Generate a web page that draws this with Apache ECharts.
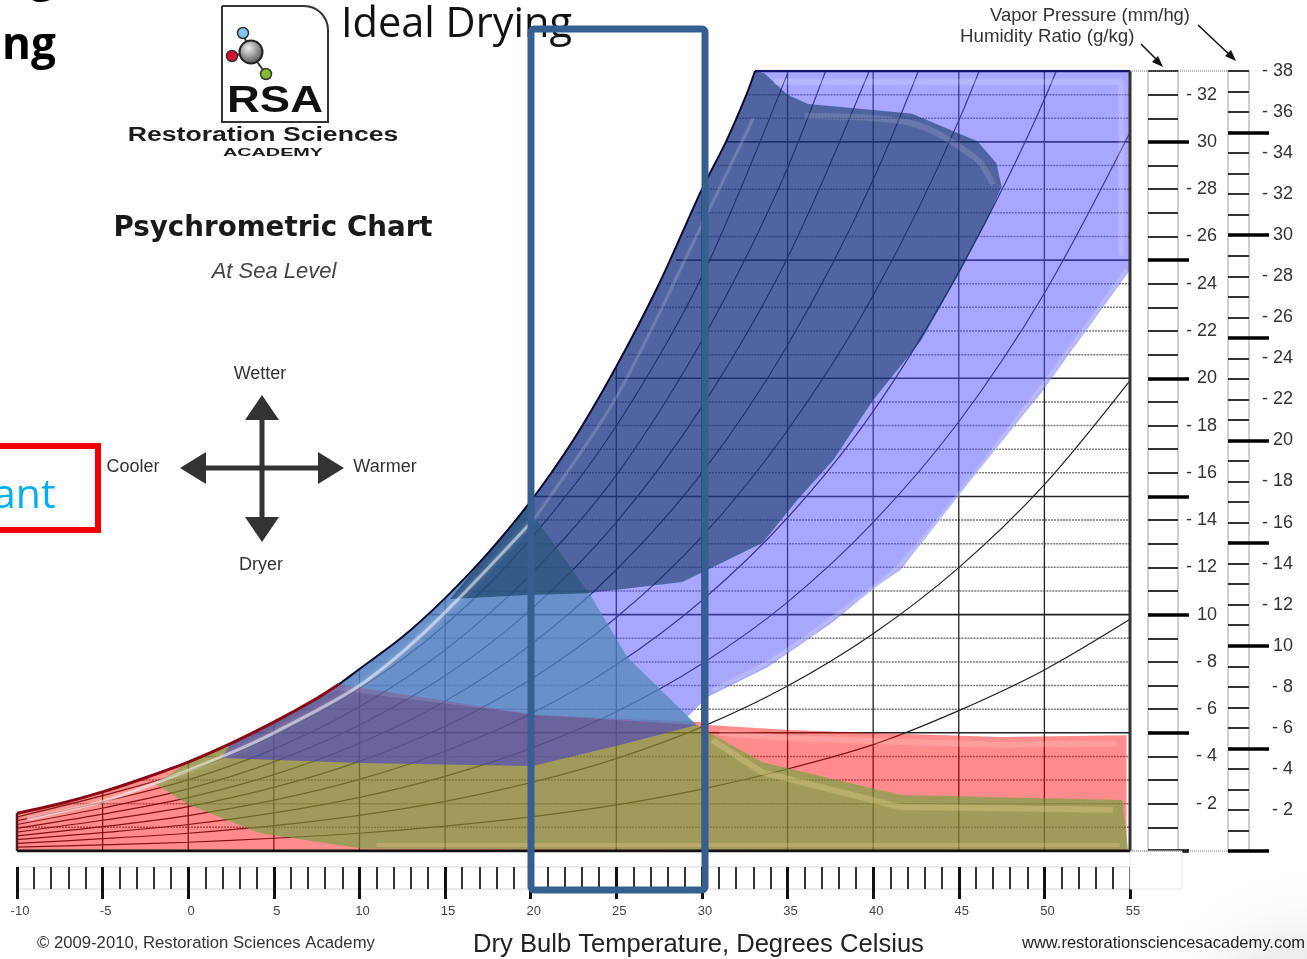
<!DOCTYPE html>
<html>
<head>
<meta charset="utf-8">
<script src="https://cdn.jsdelivr.net/npm/echarts@6/dist/echarts.min.js"></script>
<style>html,body{margin:0;padding:0;background:#fff;overflow:hidden}#c{width:1307px;height:959px}</style>
</head>
<body>
<div id="c"></div>
<script>
// ---------- values (dry bulb degC, humidity ratio g/kg) ----------
const temps = [-10,-5,0,5,10,15,20,25,30,35,40,45,50,55];
const saturation = [[-10,1.6],[-7.5,2.0],[-5,2.5],[-2.5,3.1],[0,3.76],[2.5,4.55],[5,5.45],[7.5,6.45],[8.8,7.05],[10,7.7],[12.5,9.05],[15,10.7],[17.5,12.6],[20,14.8],[22.5,17.4],[25,20.5],[27.5,24],[30,28],[31.4,30],[32.6,32],[33.1,33]];
const humidityLevels = [1,2,3,4,5,6,7,8,9,10,11,12,13,14,15,16,17,18,19,20,21,22,23,24,25,26,27,28,29,30,31,32,33];
const levelStartTemp = [-10,-7.4,-3,0.8,3.8,6.4,8.7,10.6,12.4,14.1,15.6,16.9,18.1,19.2,20.3,21.3,22.3,23.2,24.1,24.9,25.7,26.5,27.2,27.9,28.5,29.1,29.7,30.3,30.9,31.4,32,32.6,33.1];
const columnTopW = [1.6,2.5,3.76,5.45,7.7,10.7,14.8,20.5,28,33,33,33,33,33];
const rh10 = [0.16,0.26,0.37,0.54,0.75,1.05,1.44,1.95,2.62,3.47,4.5,5.94,7.66,9.8];
const rh20 = [0.32,0.52,0.75,1.07,1.51,2.10,2.89,3.91,5.25,6.98,9.19,11.99,15.5,19.9];
const rh30 = [0.48,0.78,1.12,1.61,2.27,3.16,4.34,5.89,7.92,10.53,13.9,18.16,23.6,30.4];
const rh40 = [0.64,1.03,1.50,2.15,3.03,4.22,5.80,7.88,10.6,14.1,18.6,24.5,31.8,41.2];
const rh50 = [0.80,1.30,1.88,2.69,3.79,5.28,7.26,9.88,13.3,17.8,23.5,30.9,40.3];
const rh60 = [0.96,1.56,2.26,3.23,4.56,6.34,8.73,11.9,16.0,21.4,28.4,37.4];
const rh70 = [1.12,1.82,2.63,3.77,5.33,7.41,10.2,13.9,18.8,25.1,33.4];
const rh80 = [1.28,2.08,3.01,4.31,6.1,8.5,11.7,15.9,21.6,28.9,38.5];
const rh90 = [1.44,2.34,3.39,4.86,6.86,9.56,13.2,17.98,24.3,32.9];
const rhCurves = [rh10,rh20,rh30,rh40,rh50,rh60,rh70,rh80,rh90];

const redEdge = [[20.3,5.75],[29.9,5.46],[30.37,5.33],[35.1,5.12],[40.07,4.99],[47.43,4.82],[54.8,4.9],[54.8,0],[-10,0]];
const greenEdge = [[20.15,14.2],[23.48,10.83],[25.64,8.2],[29.7,5.33],[30.37,5.03],[33.53,3.76],[41.6,2.37],[54.56,2.16],[54.9,0],[10.16,0.1],[4.15,0.76],[0.06,1.95],[-1.93,2.83]];
const violetEdge = [[55,33],[55,24.58],[49.8,19.38],[45.7,15.7],[41.6,11.9],[40,11.1],[37.67,9.7],[35.7,8.7],[33.8,7.76],[30.3,6.5],[29.15,5.67],[29.7,5.33],[25.2,4.48],[20.1,3.6],[10.16,3.72],[1.93,3.93]];
const navyEdge = [[33.64,32.9],[35,32],[36.2,31.6],[42.23,31.2],[46.09,30.03],[47.2,29.1],[47.5,28.1],[46.67,26.7],[45,24.4],[42.8,21.6],[40,19.08],[37.67,16.54],[35.57,14.85],[33.53,13.03],[28.86,11.38],[23.3,10.91],[19.8,10.83],[15.3,10.66]];
const overlapBand = [[8.8,6.8],[20.3,5.75],[29.7,5.33],[25.2,4.48],[20.1,3.6],[10.16,3.72],[1.93,3.93],[2.5,4.55],[5,5.45],[7.5,6.45]];
const steelBand = [[8.8,7.05],[10,7.7],[12.5,9.05],[15,10.7],[17.5,12.6],[20,14.8],[20.15,14.2],[23.48,10.83],[25.64,8.2],[29.7,5.33],[20.3,5.75]];

const bevelSatLow = [[-9.4,1.35],[-5,2.1],[-2,2.85],[2,4.0],[5,5.0],[10,7.0],[14.3,9.6],[20.15,14]];
const bevelSatHigh = [[20.15,14],[25,19.2],[30,26.5],[33,31]];
const bevelVioletTop = [[34.2,32.55],[54.5,32.55],[54.5,25.2]];
const bevelVioletLow = [[30.6,6.8],[33.9,8.0],[37.7,9.9],[41.7,12.2],[49.9,19.7],[54.8,24.6]];
const bevelRed = [[31,5.0],[35,4.78],[40,4.65],[47.4,4.5],[54.2,4.55]];
const bevelGreen = [[30.6,4.7],[33.5,3.34],[41.6,1.86],[54,1.75]];
const bevelBottom = [[11,0.25],[54.4,0.25]];
const bevelNavy = [[36,31.1],[42.2,30.8],[46,29.3],[47,28.2]];

const tempLabels = [-10,-5,0,5,10,15,20,25,30,35,40,45,50,55];
const fiveStepsHumidity = [0,5,10,15,20,25,30];
const fiveStepsPressure = [0,5,10,15,20,25,30,35];

// ---------- helpers ----------
const satFrom = t => saturation.filter(p => p[0] >= t);
const satTo = t => saturation.filter(p => p[0] <= t);
function polygon(points, fill, z, extra){
  return {type:'custom',xAxisIndex:0,yAxisIndex:0,z,silent:true,animation:false,clip:true,
    data:[[points[0][0],points[0][1]]],
    renderItem:(p,api)=>({type:'polygon',shape:{points:points.map(q=>api.coord(q))},style:Object.assign({fill},extra||{})})};
}
function line(points, color, width, z, dash, smooth, extra){
  return {type:'line',xAxisIndex:0,yAxisIndex:0,data:points,z,silent:true,animation:false,showSymbol:false,symbol:'none',
    smooth:smooth||false,clip:true,lineStyle:Object.assign({color,width,type:dash||'solid'},extra||{})};
}
const series = [];
humidityLevels.forEach((w,i)=>{
  const major = w%5===0;
  series.push(line([[levelStartTemp[i],w],[55,w]], major?'#222':'#777', major?1.6:1.5, 2, major?'solid':[2,1]));
});
temps.forEach((t,i)=>series.push(line([[t,0],[t,columnTopW[i]]],'#222',1.3,2)));
rhCurves.forEach(c=>series.push(line(c.map((w,i)=>[temps[i],w]),'#222',1.2,2,'solid',0.3)));

series.push(polygon(satTo(8.8).concat(redEdge),'rgba(255,0,0,0.45)',3));
series.push(polygon(satFrom(-1.9).filter(p=>p[0]<=20).concat(greenEdge),'rgba(97,165,57,0.6)',4));
series.push(polygon(satFrom(2.5).concat(violetEdge),'rgba(80,80,255,0.5)',5));
series.push(polygon(overlapBand,'rgba(50,20,80,0.18)',5));
series.push(polygon(steelBand,'rgba(60,160,225,0.22)',5));
series.push(polygon(satFrom(15.3).concat(navyEdge),'rgba(8,45,82,0.55)',6));

const glow = (c,b) => ({shadowBlur:b||5,shadowColor:c});
series.push(line(bevelSatLow,'rgba(255,255,255,0.5)',3,7,'solid',0.3,glow('rgba(255,255,255,.6)')));
series.push(line(bevelSatHigh,'rgba(255,255,255,0.16)',3,7,'solid',0.3,glow('rgba(255,255,255,.3)')));
series.push(line(bevelVioletTop,'rgba(255,255,255,0.16)',6,7,'solid',false,glow('rgba(255,255,255,.3)',7)));
series.push(line(bevelVioletLow,'rgba(225,225,225,0.28)',4,7,'solid',0.3,glow('rgba(255,255,255,.3)')));
series.push(line(bevelRed,'rgba(255,255,255,0.14)',6,7,'solid',false,glow('rgba(255,255,255,.3)',7)));
series.push(line(bevelGreen,'rgba(255,225,160,0.26)',6,8,'solid',false,glow('rgba(255,225,160,.3)',7)));
series.push(line(bevelBottom,'rgba(255,225,160,0.22)',4,8));
series.push(line(bevelNavy,'rgba(255,255,255,0.12)',6,8,'solid',0.3,glow('rgba(255,255,255,.25)',7)));

series.push(line(satTo(8.8),'#8a0a14',3,9,'solid',0.3));
series.push(line(satFrom(8.8),'#0a0a30',2,9,'solid',0.3));
series.push(line([[33.1,33],[55,33]],'#14146e',2.5,9));
series.push(line([[55,33],[55,0]],'#333',3,9));
series.push(line([[-10,1.6],[-10,0]],'#5a1a1a',2.5,9));
series.push(line([[-10,0],[55,0]],'#111',3,9));

const hLabel = v => v%10===0 ? String(v) : (v%2===0 ? '- '+v : '');
const sideLabel = {inside:true,align:'right',fontFamily:'Liberation Sans',fontSize:18,color:'#333',hideOverlap:false,showMinLabel:false,showMaxLabel:true,formatter:hLabel};
const noLine = {show:false,onZero:false};
const hiddenX = g => ({type:'value',gridIndex:g,min:0,max:1,show:false});

const txt = (text,x,y,font,fill,align,extra) => Object.assign({type:'text',x,y,z:20,silent:true,
  style:{text,font,fill:fill||'#222',textAlign:align||'left',textVerticalAlign:'middle'}},extra||{});
const poly = (points,fill) => ({type:'polygon',z:20,silent:true,shape:{points},style:{fill}});
const seg = (x1,y1,x2,y2,stroke,lineWidth,dash) => ({type:'line',z:20,silent:true,shape:{x1,y1,x2,y2},style:{stroke,lineWidth,lineDash:dash||null}});
const disc = (cx,cy,r,fill,stroke) => ({type:'circle',z:21,silent:true,shape:{cx,cy,r},style:{fill,stroke:stroke||'#333',lineWidth:1.5}});

const graphic = [
  {type:'rect',z:1,silent:true,shape:{x:1000,y:860,width:307,height:99},style:{fill:new echarts.graphic.RadialGradient(1307,1040,180,[{offset:0.5,color:'rgba(236,236,236,0.9)'},{offset:1,color:'rgba(255,255,255,0)'}],true)}},
  {type:'rect',z:1,silent:true,shape:{x:1130,y:851,width:52,height:38},style:{fill:'#fff',stroke:'#e6e6e6',lineWidth:1}},
  // logo
  {type:'rect',z:20,silent:true,shape:{x:222,y:6,width:106,height:116,r:[0,24,0,0]},style:{fill:'#fff',stroke:'#333',lineWidth:2}},
  seg(243,33,250,52,'#333',2), seg(232,56,250,52,'#333',2), seg(250,52,266,74,'#333',2),
  disc(243,33,5.5,'#7cc8ee'), disc(232,56,5.5,'#d8122e'), disc(266,74,5.5,'#84bc2c'),
  {type:'circle',z:22,silent:true,shape:{cx:251,cy:52,r:11.5},style:{stroke:'#222',lineWidth:2,fill:new echarts.graphic.RadialGradient(0.4,0.35,0.7,[{offset:0,color:'#eee'},{offset:1,color:'#444'}])}},
  txt('RSA',275,102,'900 36px "Liberation Sans"','#111','center',{scaleX:1.26}),
  txt('Restoration Sciences',263,135,'900 20px "Liberation Sans"','#1c1c1c','center',{scaleX:1.33}),
  txt('ACADEMY',273,153,'900 11px "Liberation Sans"','#1c1c1c','center',{scaleX:1.8}),
  txt('Psychrometric Chart',273,229,'bold 28px "DejaVu Sans"','#1a1a1a','center',{scaleX:0.99}),
  txt('At Sea Level',274,272,'italic 22px "Liberation Sans"','#444','center'),
  // compass
  seg(262,415,262,525,'#333',5), seg(205,468,320,468,'#333',5),
  poly([[262,395],[245,420],[279,420]],'#333'), poly([[262,542],[245,517],[279,517]],'#333'),
  poly([[180,468],[206,452],[206,484]],'#333'), poly([[344,468],[318,452],[318,484]],'#333'),
  txt('Wetter',260,374,'18px "Liberation Sans"','#333','center'),
  txt('Dryer',261,565,'18px "Liberation Sans"','#333','center'),
  txt('Cooler',133,467,'18px "Liberation Sans"','#333','center'),
  txt('Warmer',385,467,'18px "Liberation Sans"','#333','center'),
  // slide text
  txt('Ideal Drying',341,25,'41.5px "Open Sans"','#111','left'),
  txt('ng',2,46,'bold 44px "Open Sans"','#000','left'),
  txt('g',30,-22,'bold 44px "Open Sans"','#000','left'),
  txt('ant',-7,496,'41px "Open Sans"','#00aeef','left'),
  {type:'rect',z:21,silent:true,shape:{x:-10,y:446,width:108,height:84},style:{fill:'none',stroke:'#ee0000',lineWidth:6}},
  {type:'rect',z:30,silent:true,shape:{x:531,y:29,width:174,height:861,r:3},style:{fill:'none',stroke:'#365f91',lineWidth:7}},
  // captions
  txt('Vapor Pressure (mm/hg)',990,16,'18.4px "Liberation Sans"','#333','left'),
  txt('Humidity Ratio (g/kg)',960,37,'18.7px "Liberation Sans"','#333','left'),
  seg(1141,44,1160,63,'#111',1.6), poly([[1163,67],[1152,62],[1158,56]],'#111'),
  seg(1198,25,1232,57,'#111',1.6), poly([[1236,61],[1225,56],[1231,50]],'#111'),
  seg(1130,71,1228,71,'#777',1,[1,1]), seg(1130,851,1228,851,'#777',1,[1,1]),
  txt('\u00A9 2009-2010, Restoration Sciences Academy',37,943,'16.7px "Liberation Sans"','#333','left'),
  txt('Dry Bulb Temperature, Degrees Celsius',473,945,'25.6px "Liberation Sans"','#222','left'),
  txt('www.restorationsciencesacademy.com',1022,943,'16.5px "Liberation Sans"','#222','left')
];

const option = {
  backgroundColor:'#fff',
  animation:false,
  tooltip:{show:false},
  grid:[
    {left:17,top:71,width:1113,height:780,outerBoundsMode:'none'},
    {left:17,top:867,width:1113,height:22,show:true,borderColor:'#d6d6d6',borderWidth:1,outerBoundsMode:'none'},
    {left:1148,top:71,width:30,height:780,show:true,borderColor:'#cfcfcf',borderWidth:2,outerBoundsMode:'none'},
    {left:1228,top:71,width:21,height:780,show:true,borderColor:'#cfcfcf',borderWidth:2,outerBoundsMode:'none'}
  ],
  xAxis:[
    {type:'value',gridIndex:0,min:-10,max:55,show:false},
    {type:'value',gridIndex:1,min:-10,max:55,interval:5,position:'top',splitLine:{show:false},
      axisLine:noLine,
      axisTick:{show:true,inside:true,length:32,lineStyle:{color:'#111',width:3}},
      minorTick:{show:true,splitNumber:5,length:22,lineStyle:{color:'#333',width:2}},
      minorSplitLine:{show:false},
      axisLabel:{inside:true,margin:38,padding:[0,0,0,6],fontFamily:'Liberation Sans',fontSize:13,color:'#444',showMinLabel:true,showMaxLabel:true,hideOverlap:false,
        formatter:v=>tempLabels.includes(v)?String(v):''}},
    hiddenX(2),hiddenX(3)
  ],
  yAxis:[
    {type:'value',gridIndex:0,min:0,max:33,show:false},
    {type:'value',gridIndex:1,min:0,max:1,show:false},
    {type:'value',gridIndex:2,min:0,max:33,interval:1,position:'left',splitLine:{show:false},axisLine:noLine,
      axisTick:{show:true,inside:true,length:30,lineStyle:{color:'#333',width:2}},
      axisLabel:Object.assign({},sideLabel,{margin:69})},
    {type:'value',gridIndex:2,min:0,max:33,position:'left',splitLine:{show:false},axisLine:noLine,
      axisTick:{show:true,inside:true,length:41,customValues:fiveStepsHumidity,lineStyle:{color:'#000',width:3.5}},axisLabel:{show:false}},
    {type:'value',gridIndex:3,min:0,max:38,interval:1,position:'left',splitLine:{show:false},axisLine:noLine,
      axisTick:{show:true,inside:true,length:21,lineStyle:{color:'#333',width:2}},
      axisLabel:Object.assign({},sideLabel,{margin:65})},
    {type:'value',gridIndex:3,min:0,max:38,position:'left',splitLine:{show:false},axisLine:noLine,
      axisTick:{show:true,inside:true,length:41,customValues:fiveStepsPressure,lineStyle:{color:'#000',width:3.5}},axisLabel:{show:false}}
  ],
  series,
  graphic
};
echarts.init(document.getElementById('c'),null,{renderer:'canvas'}).setOption(option);
</script>
</body>
</html>
